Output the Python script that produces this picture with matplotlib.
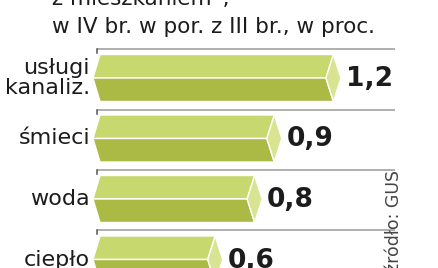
import matplotlib.pyplot as plt
from matplotlib.patches import Polygon

# data
categories = ["usługi\nkanaliz.", "śmieci", "woda", "ciepło"]
values = [1.2, 0.9, 0.8, 0.6]
value_labels = ["1,2", "0,9", "0,8", "0,6"]
title_lines = ["z mieszkaniem”,", "w IV br. w por. z III br., w proc."]
source = "źródło: GUS"

# colours
LIGHT = "#c6d86e"
DARK = "#aaba44"
CAP = "#d8e491"
GRID = "#9a9a9a"
TEXT = "#1c1c1c"

# pixel -> data scale
PX_X = 1 / 197.0
PX_Y = 1 / 60.5
X0 = 97
Y0 = 78

fig = plt.figure(figsize=(4.39, 2.68), dpi=100)
ax = fig.add_axes([0, 0, 1, 1])
ax.set_xlim(-X0 * PX_X, (439 - X0) * PX_X)
ax.set_ylim((268 - Y0) * PX_Y, -Y0 * PX_Y)
ax.axis("off")

half = 23.5 * PX_Y
notch = 7.5 * PX_X
left_edge = 3 * PX_X
left_mid = -4 * PX_X

for i, (cat, v, lab) in enumerate(zip(categories, values, value_labels)):
    c = i
    # grid line above each bar with a small tick at left
    gy = c - 29 * PX_Y
    ax.plot([0, 1.515], [gy, gy], color=GRID, lw=1.1, solid_capstyle="butt")
    ax.plot([0, 0], [gy, gy + 4 * PX_Y], color="#555555", lw=1.1)

    top = [(left_edge, c - half), (v, c - half), (v - notch, c), (left_mid, c)]
    bottom = [(left_mid, c), (v - notch, c), (v, c + half), (left_edge, c + half)]
    cap = [(v, c - half), (v + notch, c), (v, c + half), (v - notch, c)]
    for pts, col in [(top, LIGHT), (bottom, DARK), (cap, CAP)]:
        ax.add_patch(Polygon(pts, closed=True, facecolor=col, edgecolor="white", lw=1.0))

    ax.text(-7 * PX_X, c, cat, ha="right", va="center", fontsize=16,
            color=TEXT, linespacing=0.95)
    ax.text(v + notch + 5 * PX_X, c + 1 * PX_Y, lab, ha="left", va="center",
            fontsize=19, fontweight="bold", color=TEXT)

# title (top line cut off by the frame)
ax.text(-45 * PX_X, -73 * PX_Y, title_lines[0], ha="left", va="baseline",
        fontsize=15.5, color=TEXT)
ax.text(-45 * PX_X, -45 * PX_Y, title_lines[1], ha="left", va="baseline",
        fontsize=15.5, color=TEXT)

# source, rotated
ax.text((394 - X0) * PX_X, (170 - Y0) * PX_Y, source, rotation=90,
        ha="center", va="top", fontsize=12.5, color="#444444")

fig.savefig("out.png", dpi=100)
